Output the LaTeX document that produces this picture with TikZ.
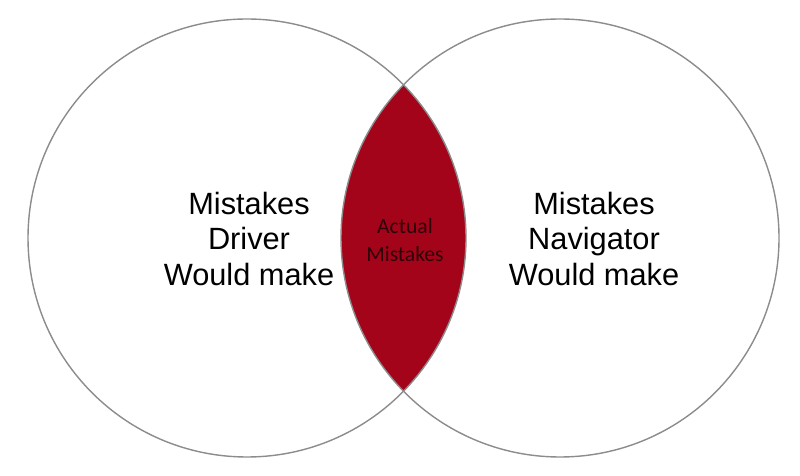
\documentclass[tikz,border=0pt]{standalone}
\usepackage{fontspec}
\setmainfont{Liberation Sans}
\newfontfamily\lensfont{Carlito}
\usepackage{tikz}
\usetikzlibrary{backgrounds}
\definecolor{lensred}{RGB}{163,4,26}
\definecolor{lenstext}{RGB}{45,2,8}
\tikzstyle{outline}=[draw=black!45,line width=0.8pt]
\tikzstyle{overlap}=[fill=lensred]
\tikzstyle{setlabel}=[align=center,font=\fontsize{17.5}{20.4}\selectfont]
\tikzstyle{lenslabel}=[align=center,text=lenstext,font=\lensfont\fontsize{12.3}{15.6}\selectfont]

\begin{document}
\begin{tikzpicture}
		\useasboundingbox (0,0) rectangle (16,9.5);
		% the lens where both sets meet
		\fill[overlap] (8.07,7.804) arc (44.39:-44.39:4.38) arc (224.39:135.61:4.38);
		\draw[outline] (4.94,4.74) circle (4.38cm);
		\draw[outline] (11.2,4.74) circle (4.38cm);
		\node[setlabel] (driver) at (4.98,4.72) {Mistakes\\Driver\\Would make};
		\node[setlabel] (navigator) at (11.88,4.72) {Mistakes\\Navigator\\Would make};
		\node[lenslabel] (actual) at (8.1,4.70) {Actual\\Mistakes};
	\end{tikzpicture}
\end{document}
